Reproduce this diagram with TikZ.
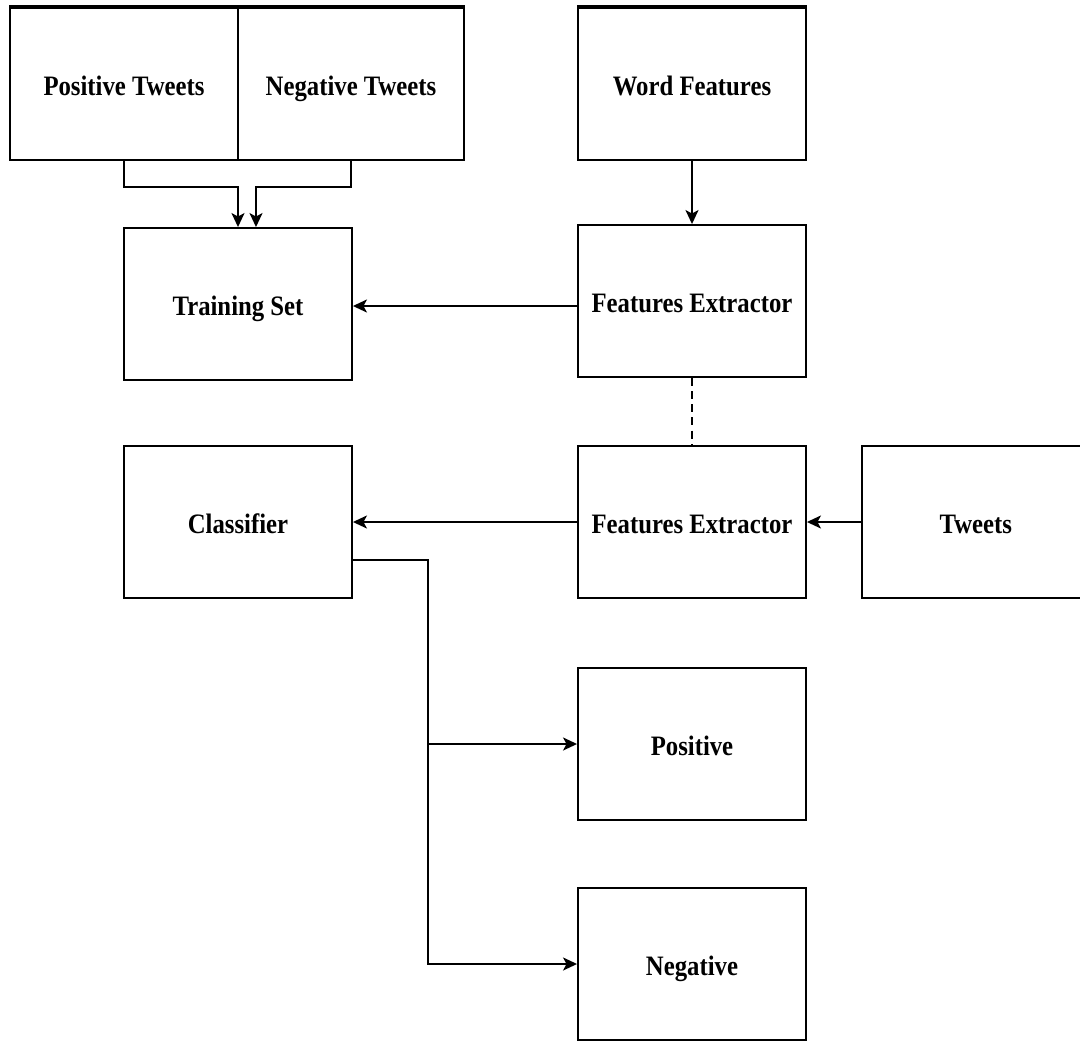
\documentclass[tikz,border=0pt]{standalone}
\usepackage{fontspec}
\setmainfont{Liberation Serif}[FakeStretch=0.88]
\usepackage{tikz}
\usetikzlibrary{arrows.meta, positioning}

\begin{document}
\begin{tikzpicture}[->,>={Stealth[length=0.28cm,width=0.26cm,inset=0.07cm]},
  x=0.02cm,y=-0.02cm,line width=1.1pt,
  box/.style={rectangle,draw,font=\fontsize{16}{19}\selectfont\bfseries,
  minimum width=4.56cm,minimum height=3.04cm,inner sep=0pt,
  text height=1.3em,text depth=0em}]
  \useasboundingbox (0,0) rectangle (1080,1042);
  \node[box] (PT) at (124,84) {Positive Tweets};
  \node[box, minimum width=4.52cm] (NT) at (351,84) {Negative Tweets};
  \node[box] (WF) at (692,84) {Word Features};
  \node[box] (TS) at (238,304) {Training Set};
  \node[box] (FE1) at (692,301) {Features Extractor};
  \node[box] (CL) at (238,522) {Classifier};
  \node[box] (FE2) at (692,522) {Features Extractor};
  \node[box] (TW) [right=1.08cm of FE2] {Tweets};
  \node[box] (PO) at (692,744) {Positive};
  \node[box] (NE) at (692,964) {Negative};
  \coordinate (split) at (428,744);

  % heavier top rule on the first row
  \draw[-,line width=2pt] (PT.north west) -- (NT.north east);
  \draw[-,line width=2pt] (WF.north west) -- (WF.north east);

  \draw (PT.south) -- ++(0,26) -| (TS.north);
  \draw (NT.south) -- ++(0,26) -| ([xshift=0.36cm]TS.north);
  \path
    (WF) edge (FE1)
    (FE1.west |- 0,306) edge (TS.east |- 0,306)
    (FE1) edge [-,dash pattern=on 4.5pt off 3pt] (FE2)
    (FE2) edge (CL)
    (TW) edge (FE2)
    (split) edge (PO);
  \draw ([yshift=-0.76cm]CL.east) -| (split) |- (NE.west);
\end{tikzpicture}
\end{document}
